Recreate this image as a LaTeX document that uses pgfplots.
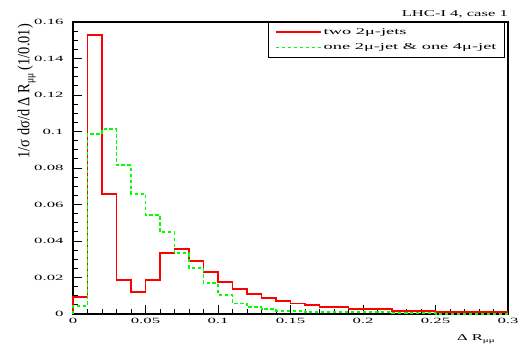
\documentclass[border=0pt]{standalone}
\usepackage{fontspec}
\setmainfont{Liberation Serif}
\usepackage{graphicx}
\usepackage{pgfplots}
\pgfplotsset{compat=1.18}
\newcommand\sx[1]{\scalebox{1.85}[1]{#1}}
\newcommand\lx[1]{\scalebox{2.05}[1]{#1}}
\begin{document}
\begin{tikzpicture}
\path[use as bounding box] (-73bp,-40bp) rectangle (447bp,314bp);
\begin{axis}[
  at={(0,0)}, anchor=south west,
  scale only axis, width=435bp, height=292bp,
  xmin=0, xmax=0.3, ymin=0, ymax=0.16,
  axis line style={line width=1.2pt},
  tick align=inside, tick pos=left,
  xtick={0,0.05,0.1,0.15,0.2,0.25,0.3},
  ytick={0,0.02,0.04,0.06,0.08,0.1,0.12,0.14,0.16},
  minor x tick num=4, minor y tick num=3,
  major tick length=9bp, minor tick length=5bp,
  tick style={line width=0.9pt, black},
  scaled ticks=false,
  /pgf/number format/fixed, /pgf/number format/precision=2,
  /pgf/number format/assume math mode=true,
  ticklabel style={font=\fontsize{8}{9}\selectfont, xscale=2.1},
  xticklabel style={yshift=-1bp},
  yticklabel style={xshift=-1bp},
  legend style={at={(rel axis cs:0.993,1)}, anchor=north east, draw=black, line width=0.9pt,
    font=\fontsize{9}{10}\selectfont, fill=white, inner xsep=6bp, inner ysep=4bp,
    row sep=4bp},
  legend cell align=left,
  legend image code/.code={\draw[#1] (0bp,0bp) -- (45bp,0bp);},
  clip=false,
]
\addplot[const plot mark left, red, line width=1.8pt] coordinates {
(0,0) (0,0.0095) (0.01,0.153) (0.02,0.0658) (0.03,0.0186) (0.04,0.0122) (0.05,0.0186)
(0.06,0.0333) (0.07,0.0354) (0.08,0.0292) (0.09,0.0228) (0.10,0.0174) (0.11,0.0137)
(0.12,0.0108) (0.13,0.0089) (0.14,0.0071) (0.15,0.0058) (0.16,0.0048) (0.17,0.0037)
(0.18,0.0037) (0.19,0.0027) (0.20,0.0027) (0.21,0.0027) (0.22,0.0018) (0.23,0.0018)
(0.24,0.0018) (0.25,0.0009) (0.26,0.0009) (0.27,0.0009) (0.28,0.0009) (0.29,0.0009) (0.30,0.0009)
};
\addlegendentry{\lx{two 2μ-jets}}
\addplot[const plot mark left, green, line width=1.8pt, dash pattern=on 3.5pt off 2.5pt] coordinates {
(0,0) (0,0.0044) (0.01,0.0986) (0.02,0.1012) (0.03,0.0815) (0.04,0.0658) (0.05,0.0542)
(0.06,0.0448) (0.07,0.0333) (0.08,0.025) (0.09,0.0168) (0.10,0.0104) (0.11,0.0058)
(0.12,0.0037) (0.13,0.0027) (0.14,0.0018) (0.15,0.0018) (0.16,0.0009) (0.17,0.0009)
(0.18,0.0009) (0.19,0.0009) (0.20,0.0009) (0.21,0.0009) (0.22,0.0004) (0.23,0.0004)
(0.24,0.0004) (0.25,0) (0.30,0)
};
\addlegendentry{\lx{one 2μ-jet \& one 4μ-jet}\hspace{38bp}}
\node[anchor=south east, inner sep=0pt, font=\fontsize{9}{10}\selectfont] at (rel axis cs:1,1) [yshift=4bp] {\sx{LHC-I 4, case 1}};
\node[anchor=north east, inner sep=0pt, font=\fontsize{9}{10}\selectfont] at (rel axis cs:1,0) [xshift=-13bp, yshift=-20bp] {\sx{Δ R\raisebox{-0.5ex}{\fontsize{6}{7}\selectfont μμ}}};
\node[xshift=-37bp, yshift=-2bp, rotate=90, anchor=south east, inner sep=0pt, font=\fontsize{9}{10}\selectfont] at (rel axis cs:0,1) {\scalebox{1.6}[1.9]{1/σ dσ/d Δ R\raisebox{-0.5ex}{\fontsize{6}{7}\selectfont μμ} (1/0.01)}};
\end{axis}
\end{tikzpicture}
\end{document}
